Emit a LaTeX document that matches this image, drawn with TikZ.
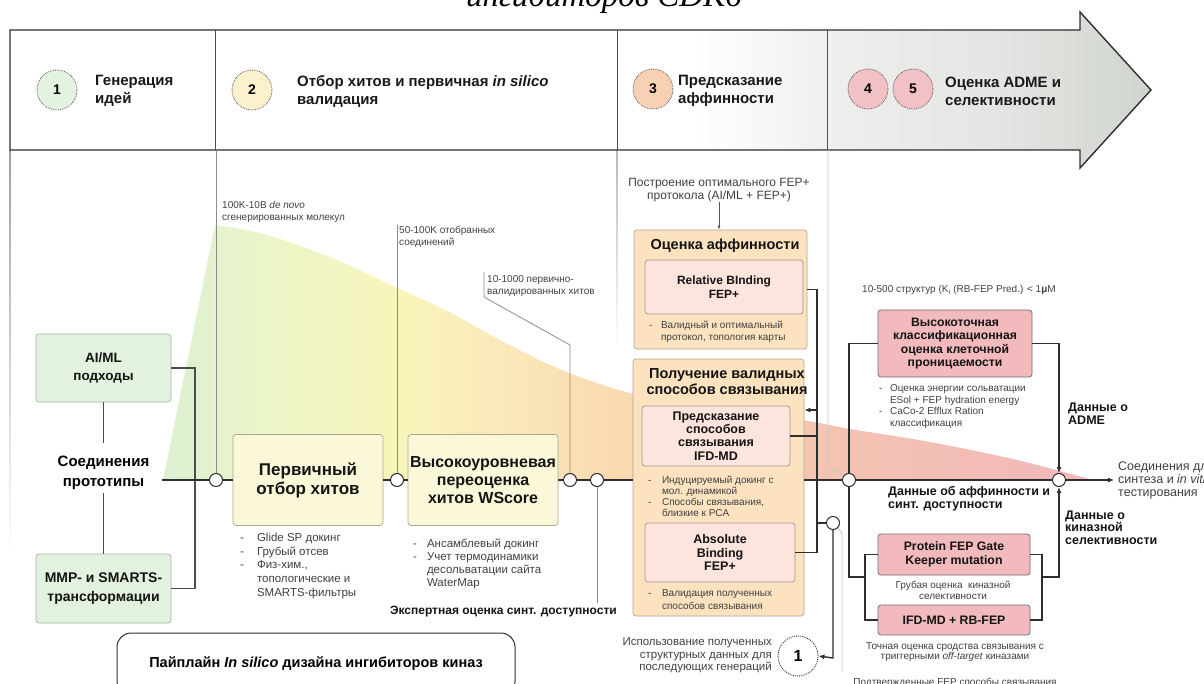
\documentclass[tikz,border=0pt]{standalone}
\usepackage{fontspec}
\setmainfont{Liberation Sans}
\newfontfamily\titlefont{Liberation Serif}
\usetikzlibrary{arrows.meta}

\definecolor{ink}{HTML}{2E2E2E}
\definecolor{txt}{HTML}{404040}
\definecolor{guide}{HTML}{8C8C8C}
\definecolor{grnF}{HTML}{E2F2DF}
\definecolor{grnB}{HTML}{A3B4A0}
\definecolor{yelF}{HTML}{FBF8D9}
\definecolor{yelB}{HTML}{AAA68E}
\definecolor{orF}{HTML}{FCE2BF}
\definecolor{orB}{HTML}{B7A38C}
\definecolor{pkF}{HTML}{FDE4DC}
\definecolor{pkB}{HTML}{A09690}
\definecolor{rdF}{HTML}{F2BABD}
\definecolor{rdB}{HTML}{6E6E6E}
\definecolor{hcA}{HTML}{E4F3E0}
\definecolor{hcB}{HTML}{FCF1CF}
\definecolor{hcC}{HTML}{F8D1B4}
\definecolor{hcD}{HTML}{F1C1C5}
\definecolor{fA}{HTML}{DDF0D2}
\definecolor{fB}{HTML}{EAF5C9}
\definecolor{fC}{HTML}{F8F5BA}
\definecolor{fD}{HTML}{FAE9BA}
\definecolor{fE}{HTML}{F9DCB2}
\definecolor{fF}{HTML}{F6CDAC}
\definecolor{fG}{HTML}{F4C2B3}
\definecolor{fH}{HTML}{F2B8BA}
\definecolor{hdA}{HTML}{EFF0EE}
\definecolor{hdB}{HTML}{E3E5E2}
\definecolor{hdC}{HTML}{D0D4CE}

\pgfdeclarehorizontalshading{funnelshade}{100bp}{color(0bp)=(fA); color(25bp)=(fA); color(30.2bp)=(fB); color(37.7bp)=(fC); color(43.1bp)=(fD); color(48.5bp)=(fE); color(55bp)=(fF); color(62bp)=(fG); color(75bp)=(fH); color(100bp)=(fH)}
\pgfdeclarehorizontalshading{hdrshade}{100bp}{color(0bp)=(white); color(55bp)=(white); color(60.8bp)=(hdA); color(68.4bp)=(hdB); color(75bp)=(hdC); color(100bp)=(hdC)}

\newcommand{\blist}[2]{\begin{tabular}[t]{@{}l@{\hspace{#1}}l@{}}#2\end{tabular}}

\tikzset{
  conn/.style={draw=ink, line width=1.4},
  thinc/.style={draw=ink!85, line width=1.1},
  lblline/.style={draw=guide, line width=0.8},
  tip/.style={-{Latex[length=6pt,width=5pt]}},
  pt/.style={circle, draw=ink, fill=white, line width=1, minimum size=13pt, inner sep=0pt},
  hcirc/.style={circle, draw=gray!70!black, densely dotted, line width=0.8, minimum size=40pt, inner sep=0pt, font=\fontsize{14}{16}\selectfont\bfseries},
  htext/.style={anchor=west, align=left, inner sep=0pt, text=black!90, font=\fontsize{15}{18}\selectfont\bfseries},
  box/.style={draw, rounded corners=3pt, line width=0.7, align=center, inner sep=0pt, text=black!92},
  grnbox/.style={box, fill=grnF, draw=grnB, font=\fontsize{13.5}{18}\selectfont\bfseries},
  yelbox/.style={box, fill=yelF, draw=yelB},
  orbox/.style={box, fill=orF, draw=orB},
  pkbox/.style={box, fill=pkF, draw=pkB, font=\fontsize{12.5}{13.5}\selectfont\bfseries},
  rdbox/.style={box, fill=rdF, draw=rdB, line width=0.8, font=\fontsize{12.3}{13.5}\selectfont\bfseries},
  note/.style={inner sep=0pt, text=txt},
  bold/.style={inner sep=0pt, text=black!92, font=\fontsize{12.5}{13}\selectfont\bfseries},
}

\begin{document}
\begin{tikzpicture}[x=1pt,y=-1pt]
\useasboundingbox (0,0) rectangle (1204,684);

% title fragment (cut by the page edge)
\node[anchor=base, inner sep=0pt, font=\titlefont\itshape\fontsize{33}{36}\selectfont] (title) at (604,7) {ингибиторов CDK6};

% funnel of compounds
\begin{scope}
\clip (163,480) -- plot[smooth, tension=0.55] coordinates {(215,225) (260,233) (300,246) (335,259) (380,280) (445,310) (500,340) (550,365) (600,384) (650,398) (720,410) (807,421) (850,429) (930,442) (1017,460) (1093,480)} -- cycle;
\shade[shading=funnelshade] (163,200) rectangle (1093,480);
\end{scope}

% faded guide lines below the header
\shade[top color=gray!75, bottom color=white] (9.3,150) rectangle (10.7,560);
\shade[top color=gray!55, bottom color=white] (616.5,150) rectangle (617.5,350);

% header arrow
\shadedraw[shading=hdrshade, draw=ink, line width=1.4] (10,30) -- (1080,30) -- (1080,12) -- (1151,90) -- (1080,168) -- (1080,150) -- (10,150) -- cycle;
\draw[draw=ink!85, line width=0.9] (215,30) -- (215,150) (617,30) -- (617,150) (827,30) -- (827,150);

\node[hcirc, fill=hcA] (h1) at (57,90) {1};
\node[htext] (ht1) at (95,91) {Генерация\\идей};
\node[hcirc, fill=hcB] (h2) at (252,90) {2};
\node[htext] (ht2) at (297,91) {Отбор хитов и первичная \textit{in silico}\\валидация};
\node[hcirc, fill=hcC] (h3) at (653,89) {3};
\node[htext] (ht3) at (678,91) {Предсказание\\аффинности};
\node[hcirc, fill=hcD] (h4) at (868,89) {4};
\node[hcirc, fill=hcD] (h5) at (913,89) {5};
\node[htext] (ht4) at (945,91) {Оценка ADME и\\селективности};

% left block
\node[grnbox, minimum width=135pt, minimum height=68pt] (ai) at (103.5,368) {AI/ML\\подходы};
\node[grnbox, minimum width=135pt, minimum height=69pt, font=\fontsize{14}{18.5}\selectfont\bfseries] (mmp) at (103.5,588.5) {MMP- и SMARTS-\\трансформации};
\node[inner sep=0pt, align=center, font=\fontsize{15}{20.5}\selectfont\bfseries] (proto) at (103.5,473) {Соединения\\прототипы};

% hit boxes
\node[yelbox, minimum width=150pt, minimum height=91pt, font=\fontsize{17}{19}\selectfont\bfseries] (prim) at (308,480) {Первичный\\отбор хитов};
\node[yelbox, minimum width=150pt, minimum height=91pt, font=\fontsize{16}{18}\selectfont\bfseries] (wscore) at (483,480) {Высокоуровневая\\переоценка\\хитов WScore};

% points on the main line
\node[pt] (c1) at (216,480) {};
\node[pt] (c2) at (397,480) {};
\node[pt] (c3) at (570,480) {};
\node[pt] (c4) at (597,480) {};
\node[pt] (c5) at (849,480) {};
\node[pt] (c6) at (1059,480) {};
\node[pt] (c7) at (833,523) {};

% affinity boxes
\node[orbox, minimum width=173pt, minimum height=119pt] (aff) at (720.5,289.5) {};
\node[bold, font=\fontsize{14.5}{15.5}\selectfont\bfseries] (afft) at (725,246) {Оценка аффинности};
\node[pkbox, minimum width=158pt, minimum height=54pt, font=\fontsize{12}{14}\selectfont\bfseries] (rbfep) at (724,287) {Relative BInding\\FEP+};
\node[note, anchor=base west, font=\fontsize{10}{12}\selectfont] (rbn) at (649,328.5) {\blist{8.5pt}{-&Валидный и оптимальный\\&протокол, топология карты}};

\node[orbox, minimum width=171pt, minimum height=257pt] (bind) at (718.5,487.5) {};
\node[bold, align=center, font=\fontsize{14.5}{15.5}\selectfont\bfseries] (bindt) at (727,381.5) {Получение валидных\\способов связывания};
\node[pkbox, minimum width=148pt, minimum height=60pt, font=\fontsize{12.5}{13.3}\selectfont\bfseries] (ifdmd) at (716,436) {Предсказание\\способов\\связывания\\IFD-MD};
\node[note, anchor=base west, font=\fontsize{10}{11}\selectfont] (ifdn) at (648,483.5) {\blist{10.5pt}{-&Индуцируемый докинг с\\&мол. динамикой\\-&Способы связывания,\\&близкие к PCA}};
\node[pkbox, minimum width=150pt, minimum height=59pt] (absb) at (720,552.5) {Absolute\\Binding\\FEP+};
\node[note, anchor=base west, font=\fontsize{10}{12.5}\selectfont] (absn) at (648,596.5) {\blist{10.5pt}{-&Валидация полученных\\&способов связывания}};

\node[note, align=center, font=\fontsize{12}{12.5}\selectfont] (build) at (719,190) {Построение оптимального FEP+\\протокола (AI/ML + FEP+)};

% ADME / selectivity boxes
\node[rdbox, minimum width=154pt, minimum height=67pt, font=\fontsize{12.2}{13.4}\selectfont\bfseries] (perm) at (955,343.5) {Высокоточная\\классификационная\\оценка клеточной\\проницаемости};
\node[note, anchor=base west, font=\fontsize{10}{11.5}\selectfont] (permn) at (879,391.5) {\blist{7.5pt}{-&Оценка энергии сольватации\\&ESol + FEP hydration energy\\-&CaCo-2 Efflux Ration\\&классификация}};
\node[rdbox, minimum width=152pt, minimum height=41pt] (pfep) at (954,554.5) {Protein FEP Gate\\Keeper mutation};
\node[rdbox, minimum width=152pt, minimum height=30pt] (ifdrb) at (954,620) {IFD-MD + RB-FEP};
\node[note, align=center, font=\fontsize{10}{10.7}\selectfont] (pfepn) at (953,590) {Грубая оценка\ \ киназной\\селективности};
\node[note, align=center, font=\fontsize{10}{10.7}\selectfont] (ifdrbn) at (955,652) {Точная оценка сродства связывания с\\триггерными \textit{off-target} киназами};
\node[note, anchor=base, font=\fontsize{10}{11}\selectfont] (confn) at (955,685) {Подтвержденные FEP способы связывания};

% labels
\node[note, anchor=west, align=left, font=\fontsize{10}{12}\selectfont] (lab1) at (222,212) {100K-10B \textit{de novo}\\сгенерированных молекул};
\node[note, anchor=west, align=left, font=\fontsize{10}{12}\selectfont] (lab2) at (399,237) {50-100K отобранных\\соединений};
\node[note, anchor=west, align=left, font=\fontsize{10}{12}\selectfont] (lab3) at (487,286) {10-1000 первично-\\валидированных хитов};
\node[note, anchor=west, font=\fontsize{10}{12}\selectfont] (lab4) at (862,290) {10-500 структур (K\textsubscript{i} (RB-FEP Pred.) < 1\textbf{μ}M};
\node[bold, anchor=east, font=\fontsize{12}{13}\selectfont\bfseries] (expert) at (617,612) {Экспертная оценка синт. доступности};
\node[bold, anchor=west, align=left] (adme) at (1068,413.5) {Данные о\\ADME};
\node[bold, anchor=west, align=left] (affd) at (888,499) {Данные об аффинности и\\синт. доступности};
\node[bold, anchor=west, align=left, font=\fontsize{12.5}{12.5}\selectfont\bfseries] (kind) at (1065,527.5) {Данные о\\киназной\\селективности};
\node[note, anchor=west, align=left, font=\fontsize{12.5}{13}\selectfont] (outl) at (1118,480) {Соединения для\\синтеза и \textit{in vitro}\\тестирования};
\node[note, anchor=east, align=right, font=\fontsize{11.5}{12.5}\selectfont] (reuse) at (772,655.5) {Использование полученных\\структурных данных для\\последующих генераций};
\node[circle, draw=ink, densely dotted, line width=0.9, fill=white, minimum size=40pt, inner sep=0pt, font=\fontsize{16}{18}\selectfont\bfseries] (loop1) at (798,656) {1};

% bullet lists under hit boxes
\node[note, anchor=base west, font=\fontsize{11.5}{13.7}\selectfont] (primn) at (240,541.5) {\blist{13pt}{-&Glide SP докинг\\-&Грубый отсев\\-&Физ-хим.,\\&топологические и\\&SMARTS-фильтры}};
\node[note, anchor=base west, font=\fontsize{11.5}{13}\selectfont] (wscn) at (413,547.5) {\blist{10pt}{-&Ансамблевый докинг\\-&Учет термодинамики\\&десольватации сайта\\&WaterMap}};

% pipeline caption
\node[draw=ink, line width=1, rounded corners=14pt, fill=white, minimum width=398pt, minimum height=62pt, inner sep=0pt, font=\fontsize{14.5}{16}\selectfont\bfseries] (pipe) at (316,664) {Пайплайн \textit{In silico} дизайна ингибиторов киназ};

% guide coordinates
\coordinate (g1) at (216,150);
\coordinate (g2) at (397,225);
\coordinate (g3a) at (484,272);
\coordinate (g3b) at (484,297);
\coordinate (g3c) at (570,345);
\coordinate (g4) at (597,603);
\coordinate (g5a) at (828,150);
\coordinate (g5b) at (828,467);
\coordinate (g7a) at (842,533);
\coordinate (g7b) at (842,672);
\draw[lblline] (g1) -- (c1.north);
\draw[lblline] (g2) -- (c2.north);
\draw[lblline] (g3a) -- (g3b) -- (g3c) -- (c3.north);
\draw[lblline] (c4.south) -- (g4);
\draw[lblline, draw=gray!45] (g5a) -- (g5b) -- (c5.north west);
\draw[lblline, draw=gray!45] (c7.south east) -- (g7a) -- (g7b);

% left connectors
\coordinate (pt1) at (103.5,443);
\coordinate (pt2) at (103.5,493);
\coordinate (lbx) at (195,368);
\coordinate (lby) at (195,588.5);
\coordinate (pmain) at (162,480);
\draw[thinc] (ai.south) -- (pt1);
\draw[thinc] (pt2) -- (mmp.north);
\draw[thinc] (ai.east) -- (lbx) -- (lby) -- (mmp.east);

% main line
\draw[conn] (pmain) -- (c1.west);
\draw[conn] (c1.east) -- (prim.west);
\draw[conn] (prim.east) -- (c2.west);
\draw[conn] (c2.east) -- (wscore.west);
\draw[conn] (wscore.east) -- (c3.west);
\draw[conn] (c3.east) -- (c4.west);
\draw[conn] (c4.east) -- (c4.east -| bind.west);
\draw[conn] (c5.west) -- (c5.west -| bind.east);
\draw[conn] (c5.east) -- (c6.west);
\draw[conn, tip, shorten >=4pt] (c6.east) -- (outl.west);

% affinity connectors
\coordinate (bx) at (817,0);
\coordinate (ain) at (817,410);
\coordinate (lp) at (833,658);
\draw[conn] (aff.east) -- (aff.east -| bx) -- (absb.east -| bx) -- (absb.east);
\draw[conn] (ifdmd.east) -- (ifdmd.east -| bx);
\draw[conn, tip] (ain) -- (ain -| bind.east);
\draw[conn] (c7.west) -- (c7.west -| bx);
\draw[conn, tip] (c7.south) -- (lp) -- (loop1.east);
\draw[draw=ink!80, line width=0.7, -{Latex[length=4pt,width=3pt]}] (build.south) -- (build.south |- aff.north);

% ADME / selectivity connectors
\coordinate (lj) at (849,577);
\coordinate (lbk1) at (865,554.5);
\coordinate (lbk2) at (865,620);
\coordinate (lbkm) at (865,577);
\coordinate (rbk1) at (1042,554.5);
\coordinate (rbk2) at (1042,620);
\coordinate (rbkm) at (1042,577);
\draw[conn] (c5.north) |- (perm.west);
\draw[conn, tip] (perm.east) -| (c6.north);
\draw[conn] (c5.south) -- (lj) -- (lbkm);
\draw[conn] (pfep.west) -- (lbk1) -- (lbk2) -- (ifdrb.west);
\draw[conn] (pfep.east) -- (rbk1) -- (rbk2) -- (ifdrb.east);
\draw[conn, tip] (rbkm) -| (c6.south);
\end{tikzpicture}
\end{document}
